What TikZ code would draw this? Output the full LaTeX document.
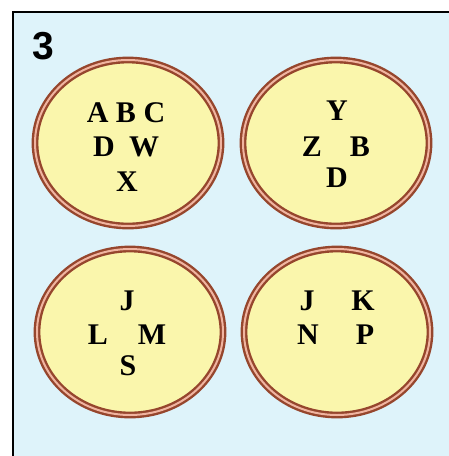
\documentclass[tikz,border=0pt]{standalone}
\usepackage{fontspec}
\setmainfont{Liberation Serif}
\newfontfamily\numfont{Liberation Sans}
\usetikzlibrary{shapes.geometric}
\definecolor{panelblue}{RGB}{222,243,250}
\definecolor{setyellow}{RGB}{250,246,172}
\definecolor{ringbrown}{RGB}{150,70,45}
\definecolor{ringpink}{RGB}{240,180,160}
\tikzset{
    setring/.style={draw=ringbrown, ellipse, line width=2.4pt,
                    double=ringpink, double distance=2pt,
                    fill=setyellow, minimum width=186pt, minimum height=166pt},
    elem/.style={font=\fontsize{30}{30}\selectfont\bfseries, inner sep=0pt},
}
\begin{document}
\begin{tikzpicture}[x=1pt, y=-1pt]
    \useasboundingbox (0,0) rectangle (449,456);
    \fill[white] (0,0) rectangle (449,456);
    \fill[panelblue] (13,12) rectangle (449,456);
    \draw[line width=1.8pt] (13,456) -- (13,12) -- (449,12);
    \node[font=\fontsize{39}{39}\selectfont\bfseries\numfont, inner sep=0pt] (num) at (43,46) {3};
    % the four sets
    \node[setring] (setA) at (128,143) {};
    \node[setring] (setB) at (336,143) {};
    \node[setring] (setC) at (130,332) {};
    \node[setring] (setD) at (337,332) {};
    % elements of set A
    \node[elem] (a1) at (126,113) {A B C};
    \node[elem] (a2) at (104,147) {D};
    \node[elem] (a3) at (144,147) {W};
    \node[elem] (a4) at (127,182) {X};
    % elements of set B
    \node[elem] (b1) at (337,111) {Y};
    \node[elem] (b2) at (312,147) {Z};
    \node[elem] (b3) at (360,147) {B};
    \node[elem] (b4) at (337,178) {D};
    % elements of set C
    \node[elem] (c1) at (127,301) {J};
    \node[elem] (c2) at (98,335) {L};
    \node[elem] (c3) at (152,335) {M};
    \node[elem] (c4) at (128,366) {S};
    % elements of set D
    \node[elem] (d1) at (307,301) {J};
    \node[elem] (d2) at (363,301) {K};
    \node[elem] (d3) at (308,335) {N};
    \node[elem] (d4) at (365,335) {P};
\end{tikzpicture}
\end{document}
